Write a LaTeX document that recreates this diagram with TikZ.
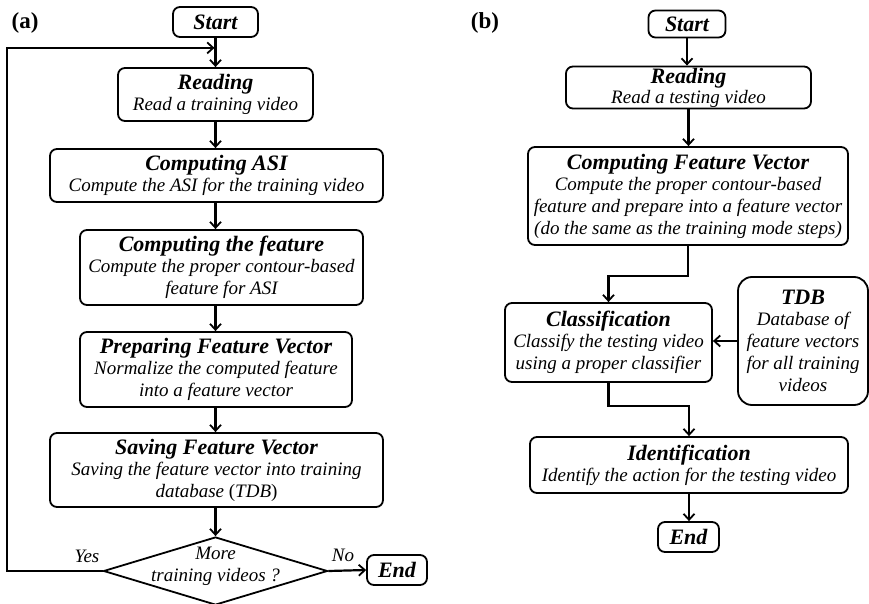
\documentclass[tikz,border=0pt]{standalone}
\usepackage{fontspec}
\setmainfont{Liberation Serif}
\usetikzlibrary{arrows.meta,shapes.geometric}
\begin{document}
\begin{tikzpicture}[x=1pt,y=-1pt,
  box/.style={draw,line width=1.8pt,rounded corners=7pt,align=center,inner sep=0pt,fill=white,
    font=\fontsize{19}{22}\selectfont\itshape},
  arr/.style={line width=2.2pt,-{Straight Barb[length=6pt,width=11pt,line width=1.8pt]}},
  lbl/.style={font=\fontsize{23}{24}\selectfont\bfseries},
  yn/.style={font=\fontsize{19}{22}\selectfont\itshape}
]
\useasboundingbox (0,0) rectangle (869,604);
\newcommand{\T}[1]{{\fontsize{22}{22}\selectfont\bfseries\itshape #1}}

% ---------- (a) ----------
\node[lbl] (la) at (25,23) {(a)};
\node[box,minimum width=85,minimum height=30] (sa) at (215.5,22) {\T{Start}};
\node[box,minimum width=195,minimum height=53] (rda) at (215.5,94.5)
  {\T{Reading}\\[-1pt]Read a training video};
\node[box,minimum width=333,minimum height=53] (asi) at (216.5,175.5)
  {\T{Computing ASI}\\[-1pt]Compute the ASI for the training video};
\node[box,minimum width=283,minimum height=75] (feat) at (221.5,267.5)
  {\T{Computing the feature}\\[-1pt]Compute the proper contour-based\\feature for ASI};
\node[box,minimum width=272,minimum height=75] (prep) at (216,369.5)
  {\T{Preparing Feature Vector}\\[-1pt]Normalize the computed feature\\into a feature vector};
\node[box,minimum width=333,minimum height=74] (save) at (216.5,470)
  {\T{Saving Feature Vector}\\[-1pt]Saving the feature vector into training\\database \textup{(}TDB\textup{)}};
\node[draw,line width=1.8pt,diamond,aspect=3.3,minimum width=224,minimum height=68,inner sep=0pt] (dec) at (215.5,571) {};
\node[align=center,font=\fontsize{19}{22}\selectfont\itshape] (dect) at (215.5,566) {More\\training videos ?};
\node[box,minimum width=60,minimum height=30] (ea) at (397,570) {\T{End}};
\node[yn] (yes) at (87,556) {Yes};
\node[yn] (no) at (343,555) {No};

\coordinate (join) at ([yshift=-10]sa.south);
\coordinate (loopx) at (7,0);
\draw[arr] (sa.south) -- (rda.north);
\draw[arr] (rda.south) -- (rda.south |- asi.north);
\draw[arr] (asi.south -| rda.south) -- (rda.south |- feat.north);
\draw[arr] (feat.south -| rda.south) -- (rda.south |- prep.north);
\draw[arr] (prep.south -| rda.south) -- (rda.south |- save.north);
\draw[arr] (save.south -| rda.south) -- (dec.north);
\draw[arr] (dec.east) -- (ea.west);
\draw[arr] (dec.west) -- (dec.west -| loopx) -- (loopx |- join) -- ([xshift=-1]join);

% ---------- (b) ----------
\node[lbl] (lb) at (485,23) {(b)};
\node[box,minimum width=77,minimum height=27] (sb) at (687,24) {\T{Start}};
\node[box,minimum width=245,minimum height=42] (rdb) at (688.5,87.5)
  {\T{Reading}\\[-2pt]Read a testing video};
\node[box,minimum width=320,minimum height=98] (cfv) at (688,196)
  {\T{Computing Feature Vector}\\[-1pt]Compute the proper contour-based\\feature and prepare into a feature vector\\(do the same as the training mode steps)};
\node[box,minimum width=207,minimum height=79] (cls) at (608.5,342.5)
  {\T{Classification}\\[-1pt]Classify the testing video\\using a proper classifier};
\node[box,minimum width=130,minimum height=128,rounded corners=14pt] (tdb) at (803,341)
  {\T{TDB}\\[-1pt]Database of\\feature vectors\\for all training\\videos};
\node[box,minimum width=318,minimum height=56] (idn) at (689,465)
  {\T{Identification}\\[-1pt]Identify the action for the testing video};
\node[box,minimum width=61,minimum height=30] (eb) at (688.5,537) {\T{End}};

\draw[arr] (sb.south) -- (sb.south |- rdb.north);
\draw[arr] (rdb.south) -- (rdb.south |- cfv.north);
\draw[arr] (cfv.south) -- ++(0,30) -| (cls.north);
\draw[arr] (tdb.west) -- (cls.east |- tdb.west);
\draw[arr] (cls.south) -- ++(0,23) -| (idn.north);
\draw[arr] (idn.south) -- (idn.south |- eb.north);
\end{tikzpicture}
\end{document}
